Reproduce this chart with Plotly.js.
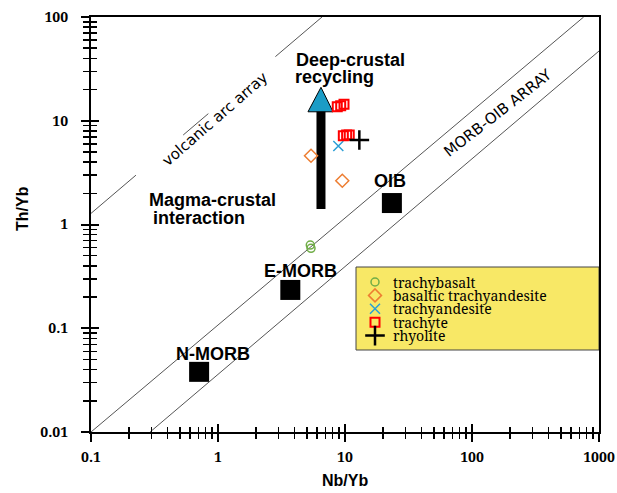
<!DOCTYPE html>
<html>
<head>
<meta charset="utf-8">
<script src="https://cdn.plot.ly/plotly-3.0.1.min.js"></script>
<style>html,body{margin:0;padding:0;background:#fff;}#chart{width:617px;height:493px;}</style>
</head>
<body>
<div id="chart"></div>
<script>
// ---------- data ----------
const categories = ['trachybasalt', 'basaltic trachyandesite', 'trachyandesite', 'trachyte', 'rhyolite'];

const trachybasaltNb = [5.33, 5.40];
const trachybasaltTh = [0.634, 0.59];
const basTrachyandesiteNb = [5.40, 9.52];
const basTrachyandesiteTh = [4.6, 2.64];
const trachyandesiteNb = [8.86];
const trachyandesiteTh = [5.71];
const trachyteNb = [8.69, 9.25, 9.82, 9.70, 10.3, 10.8];
const trachyteTh = [13.66, 13.97, 14.4, 7.18, 7.29, 7.29];
const rhyoliteNb = [12.97];
const rhyoliteTh = [6.52];

const refNames = ['N-MORB', 'E-MORB', 'OIB'];
const refNb = [0.71, 3.71, 23.4];
const refTh = [0.038, 0.234, 1.61];

// array boundaries (end points)
const morbUpperNb = [0.1, 757];
const morbUpperTh = [0.01, 100];
const morbLowerNb = [0.292, 1000];
const morbLowerTh = [0.01, 47];
const arcNb = [0.1, 6.59];
const arcTh = [1.28, 100];

// deep-crustal recycling arrow
const arrowShaftNb = [6.47, 6.47];
const arrowShaftTh = [1.41, 12.4];
const arrowHeadNb = [5.11, 6.47, 8.05, 5.11];
const arrowHeadTh = [12.2, 21.0, 12.2, 12.2];

const xTickVals = [0.1, 1, 10, 100, 1000];
const xTickText = ['0.1', '1', '10', '100', '1000'];
const yTickVals = [0.01, 0.1, 1, 10, 100];
const yTickText = ['0.01', '0.1', '1', '10', '100'];

// ---------- styling ----------
const styles = [
  {symbol: 'circle-open', size: 8, color: '#70ad47', lw: 1.5},
  {symbol: 'diamond-open', size: 10, color: '#ed7d31', lw: 1.5},
  {symbol: 'x-thin-open', size: 10, color: '#2a9fd6', lw: 1.5},
  {symbol: 'square-open', size: 9, color: '#ff0000', lw: 2},
  {symbol: 'cross-thin-open', size: 14, color: '#000000', lw: 2.5}
];
const seriesNb = [trachybasaltNb, basTrachyandesiteNb, trachyandesiteNb, trachyteNb, rhyoliteNb];
const seriesTh = [trachybasaltTh, basTrachyandesiteTh, trachyandesiteTh, trachyteTh, rhyoliteTh];

// pixel -> paper helpers for text/legend placement
const L = 91, R = 18, T = 17, B = 61, W = 617, H = 493;
const PW = W - L - R, PH = H - T - B;
const pX = x => (x - L) / PW;
const pY = y => (H - B - y) / PH;

const SERIF = "Noto Serif, DejaVu Serif, serif";
const SANS = "Liberation Sans, Arial, sans-serif";

const traces = [];
const lineStyle = {color: '#555', width: 1};
traces.push({x: morbUpperNb, y: morbUpperTh, mode: 'lines', line: lineStyle, showlegend: false, hoverinfo: 'skip'});
traces.push({x: morbLowerNb, y: morbLowerTh, mode: 'lines', line: lineStyle, showlegend: false, hoverinfo: 'skip'});
traces.push({x: arcNb, y: arcTh, mode: 'lines', line: {color: '#555', width: 1, dash: '59px,62px,33px,88px,120px'}, showlegend: false, hoverinfo: 'skip'});

traces.push({x: refNb, y: refTh, text: refNames, mode: 'markers', marker: {symbol: 'square', size: 20, color: '#000'}, showlegend: false});

traces.push({x: arrowShaftNb, y: arrowShaftTh, mode: 'lines', line: {color: '#000', width: 9}, showlegend: false, hoverinfo: 'skip'});
traces.push({x: arrowHeadNb, y: arrowHeadTh, mode: 'lines', fill: 'toself', fillcolor: '#1b9cc6', line: {color: '#000', width: 1}, showlegend: false, hoverinfo: 'skip'});

categories.forEach((c, i) => {
  const s = styles[i];
  traces.push({
    x: seriesNb[i], y: seriesTh[i], name: c, mode: 'markers',
    marker: {symbol: s.symbol, size: s.size, color: s.color, line: {color: s.color, width: s.lw}},
    showlegend: false
  });
});

// custom legend symbols (overlay axes with 0..1 range = paper fractions)
const legSymX = 375, legTextX = 391, legRow0 = 282, legRowGap = 13.4;
categories.forEach((c, i) => {
  const s = styles[i];
  traces.push({
    x: [pX(legSymX)], y: [pY(legRow0 + i * legRowGap)], xaxis: 'x2', yaxis: 'y2', mode: 'markers',
    marker: {symbol: s.symbol, size: s.size, color: s.color, line: {color: s.color, width: s.lw}},
    showlegend: false, hoverinfo: 'skip'
  });
});
// dummy trace to activate tick overlay axes
traces.push({x: [], y: [], xaxis: 'x3', yaxis: 'y3', showlegend: false});

const sansB = {family: SANS, size: 18, color: '#000', weight: 'bold'};
const annotations = [];
function addText(text, x, y, opts) {
  annotations.push(Object.assign({
    text: text, x: pX(x), y: pY(y), xref: 'paper', yref: 'paper', showarrow: false,
    xanchor: 'center', yanchor: 'middle', font: sansB
  }, opts || {}));
}
addText('Deep-crustal', 294, 60, {xanchor: 'left'});
addText('recycling', 293, 77, {xanchor: 'left'});
addText('Magma-crustal', 147, 200, {xanchor: 'left'});
addText('interaction', 151, 218, {xanchor: 'left'});
addText(refNames[0], 213, 354);
addText(refNames[1], 300, 271);
addText(refNames[2], 390, 181);
addText('volcanic arc array', 215, 119, {textangle: -41, font: {family: 'DejaVu Sans, sans-serif', size: 15, color: '#000'}});
addText('MORB-OIB ARRAY', 498, 113, {textangle: -38, font: {family: 'DejaVu Sans, sans-serif', size: 15, color: '#000'}});
addText('Nb/Yb', 345, 480, {font: {family: SANS, size: 16, color: '#000', weight: 'bold'}});
addText('Th/Yb', 23, 209, {textangle: -90, font: {family: SANS, size: 16, color: '#000', weight: 'bold'}});
categories.forEach((c, i) => {
  addText(c, legTextX, legRow0 + i * legRowGap, {xanchor: 'left', font: {family: SERIF, size: 14, color: '#000'}});
});

const tickFont = {family: SERIF, size: 14, color: '#000', weight: 'bold'};
const xRange = [-1, 3], yRange = [-2, 2];
const layout = {
  width: W, height: H,
  margin: {l: L, r: R, t: T, b: B, pad: 0},
  paper_bgcolor: '#fff', plot_bgcolor: '#fff',
  showlegend: false,
  xaxis: {
    type: 'log', range: xRange, tickmode: 'array', tickvals: xTickVals, ticktext: xTickText,
    ticks: 'outside', ticklen: 8, tickwidth: 2, tickcolor: '#000',
    minor: {ticks: 'outside', ticklen: 5, tickwidth: 1.5, tickcolor: '#000', tickmode: 'linear', dtick: 'D1', showgrid: false},
    showline: true, linecolor: '#000', linewidth: 2, mirror: true,
    showgrid: false, zeroline: false, tickfont: tickFont, ticklabelstandoff: 3, ticklabeloverflow: 'allow'
  },
  yaxis: {
    type: 'log', range: yRange, tickmode: 'array', tickvals: yTickVals, ticktext: yTickText,
    ticks: 'outside', ticklen: 8, tickwidth: 2, tickcolor: '#000',
    minor: {ticks: 'outside', ticklen: 6, tickwidth: 1.5, tickcolor: '#000', tickmode: 'linear', dtick: 'D1', showgrid: false},
    showline: true, linecolor: '#000', linewidth: 2, mirror: true,
    showgrid: false, zeroline: false, tickfont: tickFont, ticklabelstandoff: 10, ticklabeloverflow: 'allow'
  },
  xaxis2: {overlaying: 'x', range: [0, 1], visible: false, fixedrange: true},
  yaxis2: {overlaying: 'y', range: [0, 1], visible: false, fixedrange: true},
  xaxis3: {
    overlaying: 'x', anchor: 'y', type: 'log', range: xRange, tickmode: 'array', tickvals: xTickVals,
    ticks: 'inside', ticklen: 8, tickwidth: 2, tickcolor: '#000', showticklabels: false,
    minor: {ticks: 'inside', ticklen: 5, tickwidth: 1.5, tickcolor: '#000', tickmode: 'linear', dtick: 'D1', showgrid: false},
    showline: false, showgrid: false, zeroline: false
  },
  yaxis3: {
    overlaying: 'y', anchor: 'x', type: 'log', range: yRange, tickmode: 'array', tickvals: yTickVals,
    ticks: 'inside', ticklen: 8, tickwidth: 2, tickcolor: '#000', showticklabels: false,
    minor: {ticks: 'inside', ticklen: 6, tickwidth: 1.5, tickcolor: '#000', tickmode: 'linear', dtick: 'D1', showgrid: false},
    showline: false, showgrid: false, zeroline: false
  },
  shapes: [{
    type: 'rect', xref: 'paper', yref: 'paper', layer: 'below',
    x0: pX(356), x1: pX(599), y0: pY(350), y1: pY(267),
    fillcolor: '#f8e866', line: {color: '#444', width: 1}
  }],
  annotations: annotations
};

Plotly.newPlot('chart', traces, layout, {staticPlot: true});
</script>
</body>
</html>
